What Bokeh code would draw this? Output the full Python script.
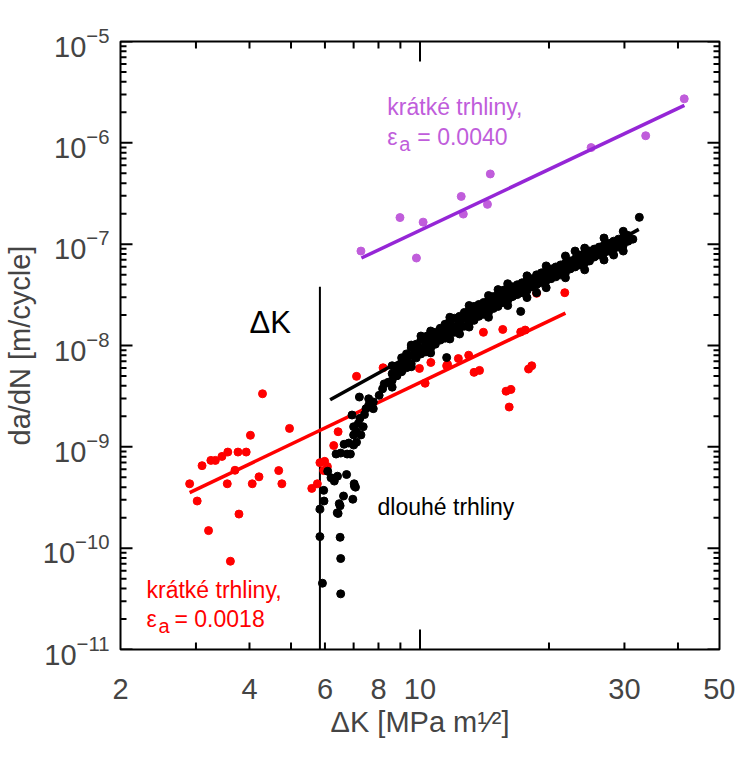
import math
from bokeh.plotting import figure
from bokeh.models import LogAxis, FixedTicker, Range1d, Label, BasicTickFormatter
from bokeh.embed import file_html
from bokeh.resources import INLINE

FONT = "Liberation Sans"

# ---------------- axis ticks ----------------
x_label_ticks = [2, 4, 6, 8, 10, 30, 50]
x_major_marks = [10]
x_minor_marks = [3, 4, 5, 6, 7, 8, 9, 20, 30, 40]
y_ticks = [1e-11, 1e-10, 1e-9, 1e-8, 1e-7, 1e-6, 1e-5]
y_minor = [m * d for d in y_ticks[:-1] for m in range(2, 10)]

# ---------------- data ----------------
# short cracks, strain amplitude 0.0040 (purple)
purple_k = [7.28, 8.98, 9.81, 10.17, 12.48, 12.62, 14.37, 14.59, 25.08, 33.63, 41.37]
purple_v = [8.55e-8, 1.83e-7, 7.30e-8, 1.65e-7, 2.96e-7, 1.98e-7, 2.47e-7, 4.93e-7,
            8.98e-7, 1.175e-6, 2.72e-6]
purple_fit_k = [7.3, 41.4]
purple_fit_v = [7.3e-8, 2.34e-6]

# short cracks, strain amplitude 0.0018 (red)
red_k = [4.29, 4.96, 4.02, 3.10, 3.25, 3.33, 3.45, 3.56, 3.76, 3.93, 3.70, 2.90, 3.02,
         3.55, 4.06, 4.21, 4.68, 4.76, 3.78, 3.21, 3.61, 5.59, 5.76, 5.84, 5.99, 6.08,
         5.96, 6.29, 6.44, 7.11, 8.20, 9.30, 9.97, 10.6, 10.28, 11.54, 11.6, 12.29,
         12.99, 14.06, 15.6, 17.18, 17.6, 13.37, 13.77, 17.92, 18.23, 15.88, 16.3,
         16.15, 18.71, 21.77]
red_v = [3.34e-9, 1.52e-9, 1.30e-9, 6.52e-10, 7.35e-10, 7.35e-10, 8.04e-10, 8.88e-10,
         8.88e-10, 8.88e-10, 5.87e-10, 4.32e-10, 2.92e-10, 4.32e-10, 4.32e-10, 5.06e-10,
         5.83e-10, 4.32e-10, 2.17e-10, 1.49e-10, 7.43e-11, 3.89e-10, 4.32e-10, 6.98e-10,
         7.19e-10, 6.38e-10, 5.83e-10, 1.03e-9, 1.41e-9, 4.96e-9, 6.03e-9, 6.17e-9,
         5.94e-9, 6.80e-9, 4.24e-9, 6.31e-9, 6.48e-9, 7.43e-9, 8.02e-9, 1.35e-8,
         1.44e-8, 1.36e-8, 1.42e-8, 5.43e-9, 5.68e-9, 5.86e-9, 6.31e-9, 3.54e-9,
         3.68e-9, 2.47e-9, 3.27e-8, 3.32e-8]
red_fit_k = [2.90, 21.85]
red_fit_v = [3.53e-10, 2.09e-8]

# long cracks (black): near-threshold tail
tail_k = [5.92, 6.53, 6.53, 5.84, 6.51, 5.84, 6.44, 5.97, 6.51, 6.63, 6.97, 5.96, 7.03,
          6.31, 6.42, 6.74, 6.09, 6.20, 6.37, 6.53, 6.76, 6.88, 6.65, 6.82, 7.00, 7.11,
          7.00, 7.11, 7.28, 7.00, 7.18, 7.37, 6.94, 7.24, 7.42, 7.22, 7.48, 7.59, 7.78,
          7.59, 7.78, 8.03, 8.18, 8.25, 8.43, 8.61, 8.83, 9.06, 9.20, 7.02, 7.07, 6.48,
          6.41]
tail_v = [4.51e-11, 3.54e-11, 7.9e-11, 1.30e-10, 1.28e-10, 2.43e-10, 2.20e-10, 2.92e-10,
          2.62e-10, 3.27e-10, 3.04e-10, 3.72e-10, 4.10e-10, 4.59e-10, 5.13e-10, 5.33e-10,
          5.74e-10, 4.95e-10, 8.49e-10, 8.68e-10, 8.49e-10, 8.49e-10, 1.06e-9, 1.09e-9,
          1.04e-9, 1.11e-9, 1.31e-9, 1.41e-9, 1.31e-9, 1.58e-9, 1.70e-9, 1.58e-9, 2.06e-9,
          1.91e-9, 2.08e-9, 3.10e-9, 2.38e-9, 2.57e-9, 2.38e-9, 2.98e-9, 2.77e-9, 3.22e-9,
          3.74e-9, 4.18e-9, 4.34e-9, 3.88e-9, 5.04e-9, 5.63e-9, 6.31e-9, 4.32e-10,
          4.0e-10, 2.75e-10, 2.23e-10]

# long cracks (black): Paris-regime band
band_k = [8.61, 8.61, 8.61, 8.83, 8.83, 9.06, 9.06, 9.06, 9.30, 9.30, 9.30, 9.54, 9.54,
          9.54, 9.80, 9.80, 9.80, 10.05, 10.05, 10.05, 10.32, 10.32, 10.32, 10.59, 10.59,
          10.59, 10.86, 10.86, 10.86, 11.15, 11.15, 11.15, 11.44, 11.44, 11.44, 11.74,
          11.74, 11.74, 12.05, 12.05, 12.05, 12.37, 12.37, 12.37, 12.69, 12.69, 12.69,
          13.02, 13.02, 13.02, 13.37, 13.37, 13.37, 13.72, 13.72, 13.72, 14.08, 14.08,
          14.08, 14.45, 14.45, 14.45, 14.83, 14.83, 14.83, 15.21, 15.21, 15.21, 15.61,
          15.61, 15.61, 16.02, 16.02, 16.02, 16.44, 16.44, 16.44, 16.87, 16.87, 16.87,
          17.31, 17.31, 17.31, 17.77, 17.77, 17.77, 18.23, 18.23, 18.23, 18.71, 18.71,
          18.71, 19.20, 19.20, 19.20, 19.70, 19.70, 19.70, 20.22, 20.22, 20.22, 20.75,
          20.75, 20.75, 21.29, 21.29, 21.29, 21.85, 21.85, 21.85, 22.42, 22.42, 22.42,
          23.01, 23.01, 23.01, 23.61, 23.61, 23.61, 24.23, 24.23, 24.23, 24.87, 24.87,
          24.87, 25.52, 25.52, 25.52, 26.19, 26.19, 26.19, 26.88, 26.88, 26.88, 27.58,
          27.58, 27.58, 28.31, 28.31, 28.31, 29.05, 29.05, 29.05, 29.81, 29.81, 29.81,
          30.59, 30.59, 31.39, 10.39, 11.54, 17.18, 16.95, 15.7, 32.5]
band_v = [5.27e-9, 6.31e-9, 4.51e-9, 6.03e-9, 5.04e-9, 6.60e-9, 5.51e-9, 7.55e-9, 6.90e-9,
          6.03e-9, 8.26e-9, 7.90e-9, 6.60e-9, 9.45e-9, 8.64e-9, 7.55e-9, 1.03e-8, 9.45e-9,
          8.26e-9, 1.13e-8, 9.89e-9, 1.13e-8, 8.64e-9, 1.08e-8, 1.24e-8, 9.45e-9, 1.18e-8,
          1.35e-8, 1.03e-8, 1.30e-8, 1.48e-8, 1.13e-8, 1.35e-8, 1.62e-8, 1.18e-8, 1.48e-8,
          1.77e-8, 1.30e-8, 1.55e-8, 1.86e-8, 1.35e-8, 1.70e-8, 1.94e-8, 1.48e-8, 1.86e-8,
          2.12e-8, 1.55e-8, 1.94e-8, 2.22e-8, 1.70e-8, 2.03e-8, 2.43e-8, 1.77e-8, 2.22e-8,
          2.54e-8, 1.94e-8, 2.32e-8, 2.66e-8, 2.03e-8, 2.43e-8, 2.78e-8, 2.12e-8, 2.66e-8,
          3.04e-8, 2.32e-8, 2.78e-8, 3.18e-8, 2.43e-8, 2.91e-8, 3.32e-8, 2.66e-8, 3.18e-8,
          3.64e-8, 2.78e-8, 3.32e-8, 3.80e-8, 3.04e-8, 3.48e-8, 3.98e-8, 3.18e-8, 3.64e-8,
          4.16e-8, 3.32e-8, 3.80e-8, 4.36e-8, 3.48e-8, 4.16e-8, 4.56e-8, 3.80e-8, 4.36e-8,
          4.98e-8, 3.98e-8, 4.56e-8, 5.21e-8, 4.16e-8, 4.76e-8, 5.45e-8, 4.36e-8, 4.98e-8,
          5.70e-8, 4.56e-8, 5.21e-8, 5.96e-8, 4.76e-8, 5.70e-8, 6.24e-8, 4.98e-8, 5.96e-8,
          6.52e-8, 5.21e-8, 6.24e-8, 6.83e-8, 5.70e-8, 6.52e-8, 7.14e-8, 5.96e-8, 6.83e-8,
          7.81e-8, 6.24e-8, 7.14e-8, 8.17e-8, 6.52e-8, 7.47e-8, 8.55e-8, 6.83e-8, 8.17e-8,
          8.94e-8, 7.47e-8, 8.55e-8, 9.35e-8, 7.81e-8, 8.94e-8, 9.78e-8, 8.17e-8, 9.35e-8,
          1.02e-7, 8.55e-8, 9.78e-8, 1.07e-7, 8.94e-8, 1.02e-7, 1.12e-7, 9.35e-8, 1.07e-7,
          1.17e-7, 9.78e-8, 1.07e-7, 1.22e-7, 1.12e-7, 1.24e-8, 7.6e-9, 2.17e-8, 3.87e-8,
          3.53e-8, 1.84e-7]

# long cracks (black): scattered points along the edges of the band
edge_k = [9.54, 9.54, 10.59, 10.59, 11.74, 11.74, 13.02, 13.02, 14.45, 14.45, 16.02,
          16.02, 17.77, 17.77, 19.70, 19.70, 21.85, 21.85, 24.23, 24.23, 26.88, 26.88,
          29.81, 29.81, 10.05, 12.37, 15.21, 18.71, 23.01, 28.31]
edge_v = [1.01e-8, 6.17e-9, 1.39e-8, 8.45e-9, 1.90e-8, 1.16e-8, 2.48e-8, 1.52e-8,
          3.11e-8, 1.90e-8, 4.07e-8, 2.48e-8, 4.87e-8, 2.97e-8, 6.10e-8, 3.72e-8,
          7.64e-8, 4.66e-8, 9.14e-8, 5.58e-8, 1.15e-7, 6.98e-8, 1.34e-7, 8.55e-8,
          1.24e-8, 1.30e-8, 3.56e-8, 3.32e-8, 8.55e-8, 7.81e-8]

black_fit_k = [6.17, 32.4]
black_fit_v = [2.92e-9, 1.40e-7]

# threshold marker (vertical line at dK_th)
thr_k = [5.84, 5.84]
thr_v = [1e-11, 3.8e-8]

RED = "#ff0000"
PURPLE_PT = "#c05ddb"
PURPLE_LN = "#9526d6"

# ---------------- figure ----------------
p = figure(width=735, height=744, x_axis_type="log", y_axis_type="log",
           x_range=Range1d(2, 50), y_range=Range1d(1e-11, 1e-5),
           x_axis_location=None, y_axis_location=None,
           output_backend="svg", toolbar_location=None,
           min_border_left=110, min_border_right=16, min_border_top=41,
           min_border_bottom=95)
p.grid.visible = False
p.outline_line_color = "black"
p.outline_line_width = 2


def no_ticks(ax):
    ax.major_tick_in = 0
    ax.major_tick_out = 0
    ax.minor_tick_in = 0
    ax.minor_tick_out = 0
    ax.axis_line_color = None
    ax.major_tick_line_color = None
    ax.minor_tick_line_color = None


# bottom labels
xl = LogAxis(ticker=FixedTicker(ticks=x_label_ticks, minor_ticks=[]),
             formatter=BasicTickFormatter(),
             axis_label="ΔK [MPa m¹⁄²]")
no_ticks(xl)
xl.major_label_standoff = 29
xl.major_label_text_font = FONT
xl.major_label_text_font_size = "29px"
xl.axis_label_text_font = FONT
xl.axis_label_text_font_size = "29px"
xl.axis_label_text_font_style = "normal"
xl.axis_label_standoff = 4
p.add_layout(xl, "below")

# left labels
yl = LogAxis(ticker=FixedTicker(ticks=y_ticks, minor_ticks=[]),
             axis_label="da/dN [m/cycle]")
no_ticks(yl)
yl.major_label_text_font = FONT
yl.major_label_text_font_size = "29px"
yl.major_label_standoff = 11
yl.axis_label_text_font = FONT
yl.axis_label_text_font_size = "29px"
yl.axis_label_text_font_style = "normal"
yl.axis_label_standoff = 4
p.add_layout(yl, "left")

# inward tick marks on all four sides (half of each dash is clipped by the frame)
TICK = dict(marker="dash", line_color="black", line_width=2)
p.scatter([2] * len(y_ticks), y_ticks, size=24, **TICK)
p.scatter([50] * len(y_ticks), y_ticks, size=24, **TICK)
p.scatter([2] * len(y_minor), y_minor, size=12, **TICK)
p.scatter([50] * len(y_minor), y_minor, size=12, **TICK)
p.scatter(x_major_marks, [1e-11] * len(x_major_marks), size=40, angle=math.pi / 2, **TICK)
p.scatter(x_major_marks, [1e-5] * len(x_major_marks), size=40, angle=math.pi / 2, **TICK)
p.scatter(x_minor_marks, [1e-11] * len(x_minor_marks), size=14, angle=math.pi / 2, **TICK)
p.scatter(x_minor_marks, [1e-5] * len(x_minor_marks), size=14, angle=math.pi / 2, **TICK)

# ---------------- glyphs ----------------
p.line(thr_k, thr_v, line_color="black", line_width=2)
p.scatter(red_k, red_v, size=8, fill_color=RED, line_color=RED)
p.line(red_fit_k, red_fit_v, line_color=RED, line_width=3.5)
p.scatter(tail_k, tail_v, size=8, fill_color="black", line_color="black")
p.scatter(band_k, band_v, size=8, fill_color="black", line_color="black")
p.scatter(edge_k, edge_v, size=8, fill_color="black", line_color="black")
p.line(black_fit_k, black_fit_v, line_color="black", line_width=3.5)
p.scatter(purple_k, purple_v, size=8, fill_color=PURPLE_PT, line_color=PURPLE_PT)
p.line(purple_fit_k, purple_fit_v, line_color=PURPLE_LN, line_width=3.5)


def note(x, y, text, color, size, xo=0, yo=0):
    p.add_layout(Label(x=x, y=y, text=text, text_color=color, text_font=FONT,
                       text_font_size=size, x_offset=xo, y_offset=yo,
                       text_align="left", text_baseline="alphabetic"))


note(8.39, 2.26e-6, "krátké trhliny,", PURPLE_PT, "23px")
note(8.39, 1.13e-6, "ε", PURPLE_PT, "23px")
note(8.39, 1.13e-6, "a", PURPLE_PT, "20px", xo=12, yo=-7)
note(8.39, 1.13e-6, "= 0.0040", PURPLE_PT, "23px", xo=30)

note(2.30, 3.88e-11, "krátké trhliny,", RED, "23px")
note(2.30, 2.0e-11, "ε", RED, "23px")
note(2.30, 2.0e-11, "a", RED, "20px", xo=12, yo=-7)
note(2.30, 2.0e-11, "= 0.0018", RED, "23px", xo=28)

note(7.96, 2.52e-10, "dlouhé trhliny", "black", "23px")
note(4.00, 1.70e-8, "ΔK", "black", "31px")

open("out.html", "w").write(file_html(p, INLINE))
